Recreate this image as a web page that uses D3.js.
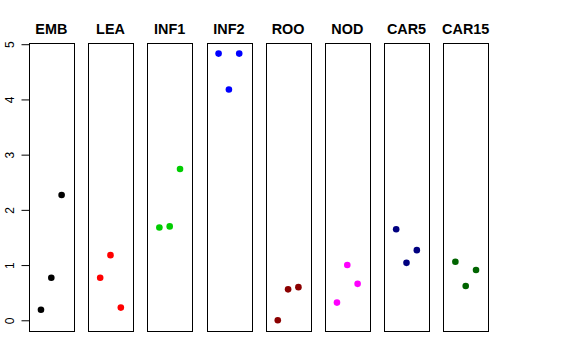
<!DOCTYPE html>
<html><head><meta charset="utf-8">
<script src="https://cdn.jsdelivr.net/npm/d3@7"></script>
<style>body{margin:0;background:#fff}svg{display:block}</style>
</head><body>
<script>
const categories = ["EMB","LEA","INF1","INF2","ROO","NOD","CAR5","CAR15"];
const colors = ["#000000","#FF0000","#00CD00","#0000FF","#8B0000","#FF00FF","#000080","#006400"];
const values = [
  [0.19, 0.77, 2.27],
  [0.77, 1.18, 0.23],
  [1.68, 1.70, 2.74],
  [4.83, 4.18, 4.83],
  [0.00, 0.56, 0.60],
  [0.32, 1.00, 0.66],
  [1.65, 1.04, 1.27],
  [1.06, 0.62, 0.91]
];
const yTicks = [0,1,2,3,4,5];

(function(){
const W = 576, H = 360;
const svg = d3.select("body").append("svg").attr("width", W).attr("height", H);

const step = 59.2, pw = 44.6;
const panelX = d3.scaleBand().domain(categories)
  .range([29, 29 + step*7 + pw]).paddingInner((step-pw)/step).paddingOuter(0);
const pTop = 43, pBottom = 331;
const y = d3.scaleLinear().domain([-0.194, 5.022]).range([pBottom, pTop]);
const x = d3.scaleLinear().domain([-0.16, 4.16]);

categories.forEach((c, i) => {
  const x0 = panelX(c), bw = panelX.bandwidth();
  x.range([x0, x0 + bw]);
  const g = svg.append("g");
  g.append("rect").attr("x", Math.round(x0)+0.5).attr("y", pTop+0.5)
    .attr("width", Math.round(bw)).attr("height", pBottom-pTop)
    .attr("fill","none").attr("stroke","#000").attr("stroke-width",1);
  g.selectAll("circle").data(values[i]).join("circle")
    .attr("cx", (d, j) => x(j+1)).attr("cy", d => y(d))
    .attr("r", 3.3).attr("fill", colors[i]);
  g.append("text").attr("x", x0 + bw/2).attr("y", 34)
    .attr("text-anchor","middle").attr("font-family","Liberation Sans, Arial, sans-serif")
    .attr("font-weight","bold").attr("font-size","14.4px").text(c);
});

const ax = svg.append("g").attr("transform", `translate(${Math.round(panelX(categories[0]))+0.5},0)`);
ax.call(d3.axisLeft(y).tickValues(yTicks).tickSize(8).tickPadding(3).tickFormat(d3.format("d")));
ax.select(".domain").remove();
ax.selectAll(".tick line").attr("stroke","#000");
ax.selectAll(".tick text")
  .attr("font-family","Liberation Sans, Arial, sans-serif").attr("font-size","12px").attr("fill","#000")
  .attr("transform","rotate(-90)").attr("x",0).attr("y",-16).attr("dy","0").attr("text-anchor","middle");
})();
</script>
</body></html>
